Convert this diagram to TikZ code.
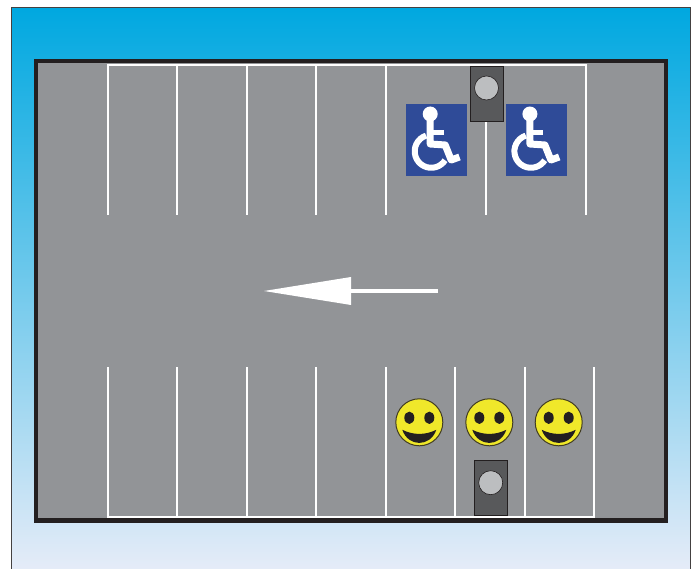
\documentclass[tikz,border=0pt]{standalone}
\usepackage{pgf, tikz}
\usetikzlibrary{arrows.meta}
\pgfdeclarelayer{edgelayer}
\pgfdeclarelayer{nodelayer}
\pgfsetlayers{edgelayer,nodelayer,main}
\definecolor{lotgrey}{HTML}{929497}
\definecolor{lotblack}{HTML}{231F20}
\definecolor{signblue}{HTML}{2F4B98}
\definecolor{meterdark}{HTML}{58595B}
\definecolor{meterlight}{HTML}{BCBEC0}
\definecolor{smileyellow}{HTML}{F0E82A}
\tikzstyle{sky}=[draw=lotblack!85, line width=1pt, top color={rgb,255:red,0;green,168;blue,224}, middle color={rgb,255:red,160;green,197;blue,235}, bottom color={rgb,255:red,230;green,236;blue,248}]
\tikzstyle{lot}=[draw=lotblack, fill=lotgrey, line width=4.4pt]
\tikzstyle{bay}=[draw=white, line width=2.2pt]
\tikzstyle{sign}=[rectangle, fill=signblue, minimum width=60.7pt, minimum height=71.7pt, inner sep=0pt]
\tikzstyle{meter}=[rectangle, fill=meterdark, draw=lotblack, line width=0.6pt, minimum width=33pt, minimum height=55pt, inner sep=0pt]
\tikzstyle{lens}=[circle, fill=meterlight, draw=lotblack, line width=0.6pt, minimum size=24pt, inner sep=0pt]
\tikzstyle{smile}=[circle, fill=smileyellow, draw=lotblack!85!smileyellow, line width=1pt, minimum size=47pt, inner sep=0pt]
\tikzset{
	wheelchair/.pic={
		\fill [white] (-6.5, 26) circle (7.5);
		\draw [white, line width=7pt, line join=round] (-6.5, 20) to (-6.5, -4) to (8.5, -5) to (14.5, -20) to (22.8, -17);
		\draw [white, line width=5pt] (-6.5, 7.7) to (7, 7.7);
		\draw [white, line width=6pt] (-5.5, -11.3) ++(108:16.5) arc [start angle=108, end angle=327, radius=16.5];
	},
	smileface/.pic={
		\fill [lotblack] (-10, 4.5) ellipse (5 and 6.2);
		\fill [lotblack] (10, 4.5) ellipse (5 and 6.2);
		\fill [lotblack] (-17, -7.5) .. controls (-6, -13) and (6, -13) .. (17, -7.5) .. controls (11, -25) and (-11, -25) .. (-17, -7.5);
	}
}

\begin{document}
\begin{tikzpicture}[x=1pt, y=1pt]
			\useasboundingbox (0, 0) rectangle (700, 569);
			\coordinate (skya) at (11, -3);
			\coordinate (skyb) at (690, 561);
			\coordinate (lota) at (36, 48.5);
			\coordinate (lotb) at (666, 508);
			\coordinate (t0) at (108, 504);
			\coordinate (t1) at (177, 504);
			\coordinate (t2) at (247, 504);
			\coordinate (t3) at (316, 504);
			\coordinate (t4) at (386, 504);
			\coordinate (t5) at (486, 504);
			\coordinate (t6) at (586, 504);
			\coordinate (u0) at (108, 354);
			\coordinate (u1) at (177, 354);
			\coordinate (u2) at (247, 354);
			\coordinate (u3) at (316, 354);
			\coordinate (u4) at (386, 354);
			\coordinate (u5) at (486, 354);
			\coordinate (u6) at (586, 354);
			\coordinate (b0) at (108, 52);
			\coordinate (b1) at (177, 52);
			\coordinate (b2) at (247, 52);
			\coordinate (b3) at (316, 52);
			\coordinate (b4) at (386, 52);
			\coordinate (b5) at (455, 52);
			\coordinate (b6) at (525, 52);
			\coordinate (b7) at (594, 52);
			\coordinate (c0) at (108, 202);
			\coordinate (c1) at (177, 202);
			\coordinate (c2) at (247, 202);
			\coordinate (c3) at (316, 202);
			\coordinate (c4) at (386, 202);
			\coordinate (c5) at (455, 202);
			\coordinate (c6) at (525, 202);
			\coordinate (c7) at (594, 202);
			\coordinate (tail) at (438, 278);
			\coordinate (tip) at (264, 278);
			\begin{pgfonlayer}{nodelayer}
				\node [style=sign] (sign0) at (436.7, 429) {};
				\node [style=sign] (sign1) at (536.4, 429) {};
				\node [style=meter] (meter0) at (486.5, 475.5) {};
				\node [style=lens] (lens0) at (486.5, 481) {};
				\node [style=meter] (meter1) at (491, 81.5) {};
				\node [style=lens] (lens1) at (490.7, 86.3) {};
				\node [style=smile] (smile0) at (419.3, 146.7) {};
				\node [style=smile] (smile1) at (489.3, 146.7) {};
				\node [style=smile] (smile2) at (558.7, 146.7) {};
			\end{pgfonlayer}
			\begin{pgfonlayer}{edgelayer}
				\draw [style=sky] (skya) rectangle (skyb);
				\draw [style=lot] (lota) rectangle (lotb);
				\draw [style=bay, line cap=rect] (t0) to (t6);
				\draw [style=bay] (t0) to (u0);
				\draw [style=bay] (t1) to (u1);
				\draw [style=bay] (t2) to (u2);
				\draw [style=bay] (t3) to (u3);
				\draw [style=bay] (t4) to (u4);
				\draw [style=bay] (t5) to (u5);
				\draw [style=bay] (t6) to (u6);
				\draw [style=bay, line cap=rect] (b0) to (b7);
				\draw [style=bay] (b0) to (c0);
				\draw [style=bay] (b1) to (c1);
				\draw [style=bay] (b2) to (c2);
				\draw [style=bay] (b3) to (c3);
				\draw [style=bay] (b4) to (c4);
				\draw [style=bay] (b5) to (c5);
				\draw [style=bay] (b6) to (c6);
				\draw [style=bay] (b7) to (c7);
				\draw [white, line width=3.3pt, -{Triangle[length=87pt, width=28pt, line width=0pt]}] (tail) to (tip);
			\end{pgfonlayer}
			\pic at (sign0.center) {wheelchair};
			\pic at (sign1.center) {wheelchair};
			\pic at (smile0.center) {smileface};
			\pic at (smile1.center) {smileface};
			\pic at (smile2.center) {smileface};
		\end{tikzpicture}
\end{document}
